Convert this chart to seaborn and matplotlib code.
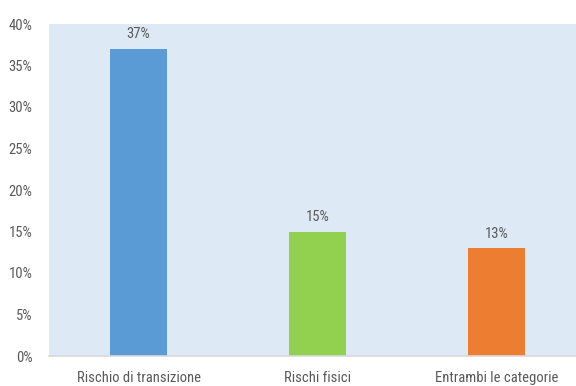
import matplotlib
matplotlib.use("Agg")
import matplotlib.pyplot as plt
import seaborn as sns
import pandas as pd
from matplotlib import font_manager

categories = ["Rischio di transizione", "Rischi fisici", "Entrambi le categorie"]
values = [37, 15, 13]
colors = ["#5B9BD5", "#92D050", "#ED7D31"]
yticks = [0, 5, 10, 15, 20, 25, 30, 35, 40]

sns.set_style("white")
names = {f.name for f in font_manager.fontManager.ttflist}
fam = [n for n in ["Liberation Sans Narrow", "Roboto Condensed", "Open Sans Condensed"] if n in names] + ["DejaVu Sans"]
plt.rcParams["font.family"] = fam

df = pd.DataFrame({"cat": categories, "val": values})
fig = plt.figure(figsize=(5.76, 3.86), dpi=100)
ax = fig.add_axes([49/576, 30/386, 1 - 49/576, (356-24)/386])
ax.set_facecolor("#DDEAF6")
sns.barplot(data=df, x="cat", y="val", hue="cat", palette=colors, legend=False,
            width=0.32, ax=ax, saturation=1, linewidth=0)
ax.set_ylim(0, 40)
ax.set_xlim(-0.5, 2.444)
ax.set_yticks(yticks)
ax.set_yticklabels([f"{t}%" for t in yticks])
ax.set_xlabel("")
ax.set_ylabel("")
for s in ["top", "right", "left"]:
    ax.spines[s].set_visible(False)
ax.spines["bottom"].set_color("#D9D9D9")
ax.spines["bottom"].set_linewidth(1.2)
ax.tick_params(axis="both", length=0, labelsize=10.5, colors="#595959")
ax.tick_params(axis="x", pad=11)
ax.tick_params(axis="y", pad=12)
for i, v in enumerate(values):
    ax.text(i, v + 0.9, f"{v}%", ha="center", va="bottom", fontsize=10.5, color="#595959")
fig.savefig("out.png", dpi=100)
